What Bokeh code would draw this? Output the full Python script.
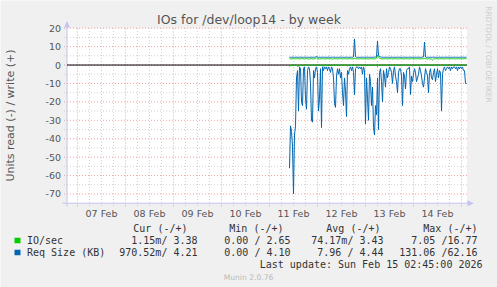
import numpy as np
from bokeh.plotting import figure
from bokeh.models import Range1d
from bokeh.core.properties import value
from bokeh.embed import file_html
from bokeh.resources import INLINE

# ---------------- data ----------------
day_labels = ["07 Feb", "08 Feb", "09 Feb", "10 Feb", "11 Feb", "12 Feb", "13 Feb", "14 Feb"]
y_ticks = [-70, -60, -50, -40, -30, -20, -10, 0, 10, 20]

# samples every 30 min, hours counted from 07 Feb 00:00; first sample 11 Feb 10:00
t_start = 106.0
t_step = 0.5

io_write = [
    3.5, 3.4, 3.3, 3.4, 3.5, 3.4, 3.3, 3.4, 3.6, 3.4,
    3.3, 3.4, 3.5, 3.4, 3.4, 3.3, 3.4, 3.5, 3.4, 3.3,
    3.4, 3.4, 3.5, 3.4, 3.3, 3.4, 3.6, 3.9, 3.5, 3.4,
    3.3, 3.4, 3.4, 3.5, 3.4, 3.3, 3.4, 3.4, 3.5, 3.4,
    3.3, 3.4, 3.4, 3.2, 3.4, 3.5, 3.4, 3.4, 3.3, 3.4,
    3.4, 3.5, 3.4, 3.3, 3.4, 3.4, 3.5, 3.4, 3.3, 3.4,
    3.4, 3.5, 3.4, 3.3, 3.4, 3.6, 3.4, 3.4, 3.3, 3.4,
    3.4, 3.5, 3.4, 3.4, 3.3, 3.4, 3.5, 3.4, 3.4, 3.3,
    3.4, 3.4, 3.5, 3.4, 3.4, 3.3, 3.5, 3.7, 5.4, 4.2,
    3.8, 3.5, 3.4, 3.3, 3.4, 3.4, 3.5, 3.4, 3.3, 3.4,
    3.4, 3.5, 3.4, 3.3, 3.4, 3.4, 3.5, 3.4, 3.3, 3.4,
    3.4, 3.5, 3.4, 3.4, 3.3, 3.4, 3.4, 3.5, 3.4, 3.4,
    3.3, 3.4, 3.5, 3.4, 3.4, 3.3, 3.4, 3.4, 3.5, 3.4,
    3.4, 3.3, 3.4, 3.5, 3.4, 3.6, 3.4, 3.4, 3.3, 3.4,
    3.4, 3.3, 3.2, 2.7, 3.2, 3.4, 3.4, 3.5, 3.4, 3.3,
    3.4, 3.4, 3.5, 3.4, 3.3, 3.4, 3.4, 3.5, 3.4, 3.4,
    3.3, 3.4, 3.4, 3.5, 3.4, 3.4, 3.3, 3.4, 3.4, 3.5,
    3.4, 3.4, 3.3, 3.4, 3.4, 3.5, 3.4, 3.4,
]
io_read = [
    -0.6, -0.4, 0, 0, 0, 0, 0, 0, -0.8, -0.5,
    -0.3, 0, 0, 0, 0, 0, 0, 0, 0, 0,
    0, 0, 0, 0, 0, 0, 0, 0, 0, 0,
    0, 0, 0, 0, -0.7, 0, 0, 0, 0, 0,
    0, 0, 0, 0, 0, 0, 0, 0, 0, 0,
    0, 0, 0, 0, 0, 0, 0, 0, -0.5, 0,
    0, 0, 0, 0, 0, 0, 0, 0, 0, 0,
    0, 0, 0, 0, 0, 0, -0.6, 0, 0, 0,
    0, 0, 0, 0, 0, 0, 0, 0, -0.8, 0,
    0, 0, 0, 0, 0, 0, 0, 0, 0, 0,
    0, 0, 0, 0, 0, 0, 0, 0, 0, 0,
    0, 0, 0, 0, 0, 0, 0, 0, 0, 0,
    0, 0, 0, -0.5, 0, 0, 0, 0, 0, 0,
    0, 0, 0, 0, 0, 0, 0, 0, 0, 0,
    0, 0, 0, 0, 0, 0, 0, 0, -0.4, 0,
    0, 0, 0, 0, 0, 0, 0, 0, 0, 0,
    0, 0, 0, 0, 0, 0, 0, 0, 0, 0,
    0, 0, 0, 0, 0, 0, 0, 0,
]
req_write = [
    4.3, 4.2, 4.2, 4.3, 4.2, 4.2, 4.2, 4.3, 4.2, 4.2,
    4.2, 4.3, 4.2, 4.2, 4.2, 4.2, 4.3, 4.2, 4.2, 4.2,
    4.2, 4.2, 4.3, 4.2, 4.2, 4.2, 4.4, 4.6, 4.3, 4.2,
    4.2, 4.2, 4.2, 4.3, 4.2, 4.2, 4.2, 4.2, 4.2, 4.3,
    4.2, 4.2, 4.2, 4.2, 4.3, 4.2, 4.2, 4.2, 4.2, 4.2,
    4.2, 4.3, 4.2, 4.2, 4.2, 4.2, 4.2, 4.3, 4.2, 4.2,
    4.2, 4.2, 4.3, 4.2, 4.4, 14.2, 4.5, 4.2, 4.2, 4.2,
    4.2, 4.2, 4.2, 4.3, 4.2, 4.2, 4.2, 4.2, 4.3, 4.2,
    4.2, 4.2, 4.2, 4.2, 4.3, 4.2, 4.4, 4.6, 13.0, 5.2,
    4.6, 4.4, 4.3, 4.2, 4.2, 4.2, 4.3, 4.2, 4.2, 4.2,
    4.2, 4.2, 4.3, 4.2, 4.2, 4.2, 4.2, 4.2, 4.2, 4.3,
    4.2, 4.2, 4.2, 4.2, 4.2, 4.3, 4.2, 4.2, 4.2, 4.2,
    4.2, 4.3, 4.2, 4.2, 4.2, 4.2, 4.2, 4.2, 4.3, 4.2,
    4.2, 4.2, 4.2, 4.3, 4.4, 12.5, 4.4, 4.2, 4.2, 4.2,
    4.2, 4.2, 4.2, 4.2, 4.3, 4.2, 4.2, 4.2, 4.2, 4.2,
    4.3, 4.2, 4.2, 4.2, 4.2, 4.2, 4.2, 4.3, 4.2, 4.2,
    4.2, 4.2, 4.2, 4.2, 4.2, 4.3, 4.2, 4.2, 4.2, 4.2,
    4.2, 4.2, 4.3, 4.2, 4.2, 4.2, 4.2, 4.2,
]
req_read = [
    -56, -33, -36, -44, -70, -38, -33, -7, -3, -25,
    -1, -2, -20, -22, -2, -1, -18, -24, -3, -1,
    -2, -10, -30, -31, -3, -7, -2, -1, -4, -25,
    -18, -2, -34, -1, -3, -1, -2, -1, -3, -1,
    -2, -4, -1, -2, -7, -21, -23, -6, -2, -5,
    -2, -7, -4, -15, -22, -7, -14, -28, -3, -5,
    -2, -1, -3, -1, -4, -16, -2, -1, -1, -2,
    -1, -2, -1, -5, -1, -3, -32, -7, -18, -30,
    -5, -9, -22, -12, -34, -38, -22, -27, -7, -35,
    -4, -2, -9, -20, -3, -6, -12, -2, -7, -4,
    -1, -2, -4, -10, -3, -1, -6, -9, -15, -4,
    -2, -2, -6, -22, -4, -6, -13, -3, -2, -2,
    -1, -16, -6, -9, -5, -2, -4, -9, -7, -5,
    -1, -3, -6, -10, -12, -7, -2, -4, -6, -15,
    -4, -2, -7, -8, -4, -2, -9, -5, -2, -7,
    -3, -4, -25, -5, -2, -1, -3, -2, -1, -2,
    -1, -3, -1, -2, -1, -1, -2, -1, -3, -1,
    -2, -1, -2, -1, -3, -3, -10, -10,
]

legend_names = ["IO/sec", "Req Size (KB)"]
legend_colors = ["#00CC00", "#0066B3"]
col_headers = ["Cur (-/+)", "Min (-/+)", "Avg (-/+)", "Max (-/+)"]
stats = [
    ["1.15m/ 3.38", "0.00 / 2.65", "74.17m/ 3.43", "7.05 /16.77"],
    ["970.52m/ 4.21", "0.00 / 4.10", "7.96 / 4.44", "131.06 /62.16"],
]
title_text = "IOs for /dev/loop14 - by week"
y_label = "Units read (-) / write (+)"
last_update = "Last update: Sun Feb 15 02:45:00 2026"
footer = "Munin 2.0.76"
side_text = "RRDTOOL / TOBI OETIKER"

n = len(req_read)
assert len(req_write) == n and len(io_read) == n and len(io_write) == n
t = t_start + t_step * np.arange(n)

# ---------------- layout ----------------
W, H = 497, 287
FL, FT, FW, FH = 66.5, 27.7, 400.0, 175.0      # plot area in canvas pixels
X0, X1 = -5.25, 194.75                          # hours shown in plot area
Y0, Y1 = -75.0, 20.0                            # values shown in plot area
KX = (X1 - X0) / FW
KY = (Y1 - Y0) / FH


def hx(px):
    return X0 + (px - FL) * KX


def vy(py):
    return Y1 - (py - FT) * KY


p = figure(width=W, height=H, x_range=Range1d(hx(0), hx(W)), y_range=Range1d(vy(H), vy(0)),
           output_backend="svg", toolbar_location=None,
           x_axis_location=None, y_axis_location=None, min_border=0)
p.min_border_left = p.min_border_right = p.min_border_top = p.min_border_bottom = 0
p.grid.visible = False
p.outline_line_color = None
p.background_fill_color = "#F0F0F0"
p.border_fill_color = "#F0F0F0"

# plot area background
p.quad(left=[X0], right=[X1], bottom=[Y0], top=[Y1], fill_color="#FFFFFF", line_color=None)

# grids
midnights = [24 * i for i in range(9)]
x_minor = [6 * i for i in range(1, 33) if (6 * i) % 24 != 0]
y_minor = [v + 5 for v in y_ticks[:-1]]
grid_major = "#F0A0A0"
grid_minor = "#D0D0D0"
p.segment(x0=x_minor, y0=[vy(205.5)] * len(x_minor), x1=x_minor, y1=[Y1] * len(x_minor),
          line_color=grid_minor, line_dash="1 2", line_width=1)
p.segment(x0=[hx(63.5)] * len(y_minor), y0=y_minor, x1=[X1] * len(y_minor), y1=y_minor,
          line_color=grid_minor, line_dash="1 2", line_width=1)
p.segment(x0=midnights, y0=[vy(206)] * len(midnights), x1=midnights, y1=[Y1] * len(midnights),
          line_color=grid_major, line_dash="1 2", line_width=1)
p.segment(x0=[hx(63.5)] * len(y_ticks), y0=y_ticks, x1=[X1] * len(y_ticks), y1=y_ticks,
          line_color=grid_major, line_dash="1 2", line_width=1)

# axes lines and arrows
axis_c = "#C4C4EE"
p.segment(x0=[X0], y0=[vy(206)], x1=[X0], y1=[vy(22)], line_color=axis_c, line_width=1)
p.segment(x0=[hx(62)], y0=[Y0], x1=[hx(469)], y1=[Y0], line_color=axis_c, line_width=1)
p.patch(x=[hx(63.5), hx(66.5), hx(69.5)], y=[vy(27), vy(20.5), vy(27)], fill_color=axis_c, line_color=None)
p.patch(x=[hx(467), hx(473.5), hx(467)], y=[vy(199.7), vy(202.7), vy(205.7)], fill_color=axis_c, line_color=None)

# tick labels
tick_font = value("DejaVu Sans")
noon = [12 + 24 * i for i in range(len(day_labels))]
p.text(x=noon, y=[vy(213)] * len(noon), text=day_labels, text_font=tick_font,
       text_font_size=value("9.5px"), text_color="#555555", text_align="center", text_baseline="middle")
p.text(x=[hx(60.5)] * len(y_ticks), y=y_ticks, text=[str(v) for v in y_ticks], text_font=tick_font,
       text_font_size=value("9.5px"), text_color="#555555", text_align="right", text_baseline="middle")

# zero line
p.segment(x0=[X0], y0=[0], x1=[X1], y1=[0], line_color="#000000", line_width=1)

# data
p.line(t, io_read, line_color=legend_colors[0], line_width=1)
p.line(t, io_write, line_color=legend_colors[0], line_width=1)
p.line(t, req_read, line_color=legend_colors[1], line_width=1)
p.line(t, req_write, line_color=legend_colors[1], line_width=1)


def add_text(px, py, txt, size, color, font="DejaVu Sans", align="left", angle=0.0):
    p.text(x=[hx(px)], y=[vy(py)], text=[txt], text_font=value(font), text_font_size=value(size),
           text_color=color, text_align=align, text_baseline="middle", angle=angle)


add_text(248.5, 19, title_text, "12.5px", "#555555", align="center")
add_text(10, 115, y_label, "11px", "#555555", align="center", angle=np.pi / 2)
add_text(488, 54, side_text, "7.5px", "#CCCCCC", align="center", angle=-np.pi / 2)

mono = "DejaVu Sans Mono"
txt_c = "#333333"
hdr_right = [187, 283, 380, 477]
val_right = [197, 290, 383, 477]
for hdr, xr in zip(col_headers, hdr_right):
    add_text(xr, 227.7, hdr, "10px", txt_c, font=mono, align="right")
row_y = [240, 252]
for i, (name, col) in enumerate(zip(legend_names, legend_colors)):
    y = row_y[i]
    p.quad(left=[hx(14)], right=[hx(20)], bottom=[vy(y + 2.7)], top=[vy(y - 2.7)],
           fill_color=col, line_color=None)
    add_text(26.5, y, name, "10px", txt_c, font=mono)
    for s, xr in zip(stats[i], val_right):
        add_text(xr, y, s, "10px", txt_c, font=mono, align="right")
add_text(482, 263.5, last_update, "10px", txt_c, font=mono, align="right")
add_text(248, 276.5, footer, "7.6px", "#BBBBBB", align="center")

open("out.html", "w").write(file_html(p, INLINE))
